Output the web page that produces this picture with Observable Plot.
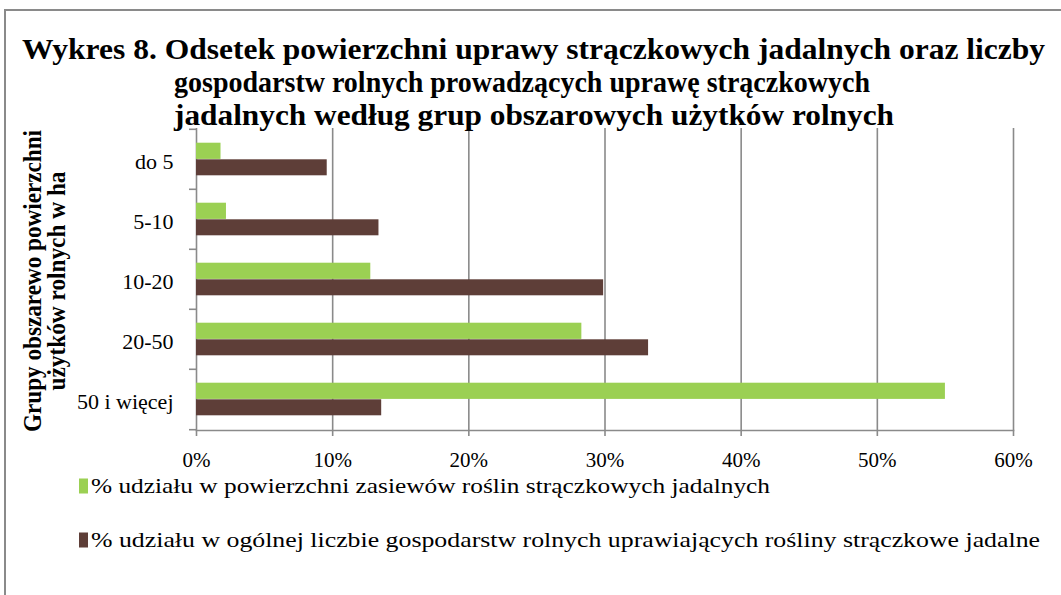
<!DOCTYPE html>
<html>
<head>
<meta charset="utf-8">
<script src="https://cdn.jsdelivr.net/npm/d3@7"></script>
<script src="https://cdn.jsdelivr.net/npm/@observablehq/plot@0.6"></script>
<style>
  html, body { margin: 0; padding: 0; background: #fff; font-family: "Liberation Serif", serif; }
  #wrap { position: relative; width: 1061px; height: 595px; overflow: hidden; background: #fff; }
  #wrap > svg { position: absolute; left: 0; top: 0; }
  #wrap text { font-family: "Liberation Serif", serif; }
</style>
</head>
<body>
<div id="wrap"></div>
<script>
// ---- data ----
const categories = ["do 5", "5-10", "10-20", "20-50", "50 i więcej"];
const powierzchnia = [1.8, 2.2, 12.8, 28.3, 55.0];   // % udziału w powierzchni zasiewów
const gospodarstwa = [9.6, 13.4, 29.9, 33.2, 13.6];  // % udziału w liczbie gospodarstw
const xTicks = [0, 0.1, 0.2, 0.3, 0.4, 0.5, 0.6];
const seriesNames = [
  "% udziału w powierzchni zasiewów roślin strączkowych jadalnych",
  "% udziału w ogólnej liczbie gospodarstw rolnych uprawiających rośliny strączkowe jadalne"
];
const titleLines = [
  "Wykres 8. Odsetek powierzchni uprawy strączkowych jadalnych oraz liczby",
  "gospodarstw rolnych prowadzących uprawę strączkowych",
  "jadalnych według grup obszarowych użytków rolnych"
];
const yTitleLines = ["Grupy obszarewo powierzchni", "użytków rolnych w ha"];

const GREEN = "#9bd053", BROWN = "#5e3e38", GRID = "#8a8a8a";
const FONT = "Liberation Serif, serif";

const rowsA = categories.map((c, i) => ({category: c, value: powierzchnia[i] / 100}));
const rowsB = categories.map((c, i) => ({category: c, value: gospodarstwa[i] / 100}));

const W = 1061, H = 595;
const mTop = 128, mBottom = 165, mLeft = 196, mRight = 48;
const bw = (H - mTop - mBottom) / categories.length;
const pct = d3.format(".0%");

const chart = Plot.plot({
  width: W, height: H,
  marginTop: mTop, marginBottom: mBottom, marginLeft: mLeft, marginRight: mRight,
  style: {fontFamily: FONT, fontSize: "20px", color: "#000", background: "transparent"},
  x: {domain: [0, 0.6], ticks: xTicks, tickFormat: pct},
  y: {domain: categories, padding: 0},
  marks: [
    Plot.ruleX(xTicks, {stroke: GRID, strokeWidth: 1.6, insetBottom: -6}),
    Plot.frame({anchor: "bottom", stroke: GRID, strokeWidth: 1.6}),
    Plot.axisY({tickSize: 7, tickFormat: () => "", dy: -bw / 2, stroke: GRID, strokeWidth: 1.6, label: null}),
    Plot.axisY({ticks: [categories[categories.length - 1]], tickSize: 7, tickFormat: () => "", dy: bw / 2, stroke: GRID, strokeWidth: 1.6, label: null}),
    Plot.barX(rowsA, {x: "value", y: "category", fill: GREEN, insetTop: 13.7, insetBottom: bw - 30.3}),
    Plot.barX(rowsB, {x: "value", y: "category", fill: BROWN, insetTop: 30.3, insetBottom: 13.7}),
    Plot.axisX({ticks: xTicks, tickFormat: pct, tickSize: 0, tickPadding: 22, label: null, fill: "#000", fontSize: 21}),
    Plot.axisY({tickSize: 0, tickPadding: 23, label: null, fill: "#000", fontSize: 22, dy: 2})
  ]
});
document.getElementById("wrap").appendChild(chart);

// ---- overlay: frame, title, y title, legend ----
const ov = d3.select("#wrap").append("svg")
  .attr("width", W).attr("height", H)
  .style("pointer-events", "none")
  .attr("font-family", FONT);

ov.append("path").attr("d", `M5,${H} L5,10 L${W},10`)
  .attr("fill", "none").attr("stroke", GRID).attr("stroke-width", 2);

const tl = [
  {x: 22, y: 59, len: 1023},
  {x: 174, y: 92, len: 696},
  {x: 174, y: 125, len: 720}
];
titleLines.forEach((t, i) => {
  ov.append("text").attr("x", tl[i].x).attr("y", tl[i].y)
    .attr("font-size", 29.5).attr("font-weight", "bold")
    .attr("textLength", tl[i].len).attr("lengthAdjust", "spacingAndGlyphs")
    .text(t);
});

const yt = [{x: 41, len: 302}, {x: 65, len: 219}];
yTitleLines.forEach((t, i) => {
  ov.append("text")
    .attr("transform", `translate(${yt[i].x},281) rotate(-90)`)
    .attr("text-anchor", "middle")
    .attr("font-size", 25).attr("font-weight", "bold")
    .attr("textLength", yt[i].len).attr("lengthAdjust", "spacingAndGlyphs")
    .text(t);
});

const lg = [
  {y: 486, color: GREEN, len: 679},
  {y: 540, color: BROWN, len: 949}
];
seriesNames.forEach((t, i) => {
  ov.append("rect").attr("x", 79).attr("y", lg[i].y - 7.5).attr("width", 9).attr("height", 15).attr("fill", lg[i].color);
  ov.append("text").attr("x", 91).attr("y", lg[i].y + 7)
    .attr("font-size", 22)
    .attr("textLength", lg[i].len).attr("lengthAdjust", "spacingAndGlyphs")
    .text(t);
});
</script>
</body>
</html>
